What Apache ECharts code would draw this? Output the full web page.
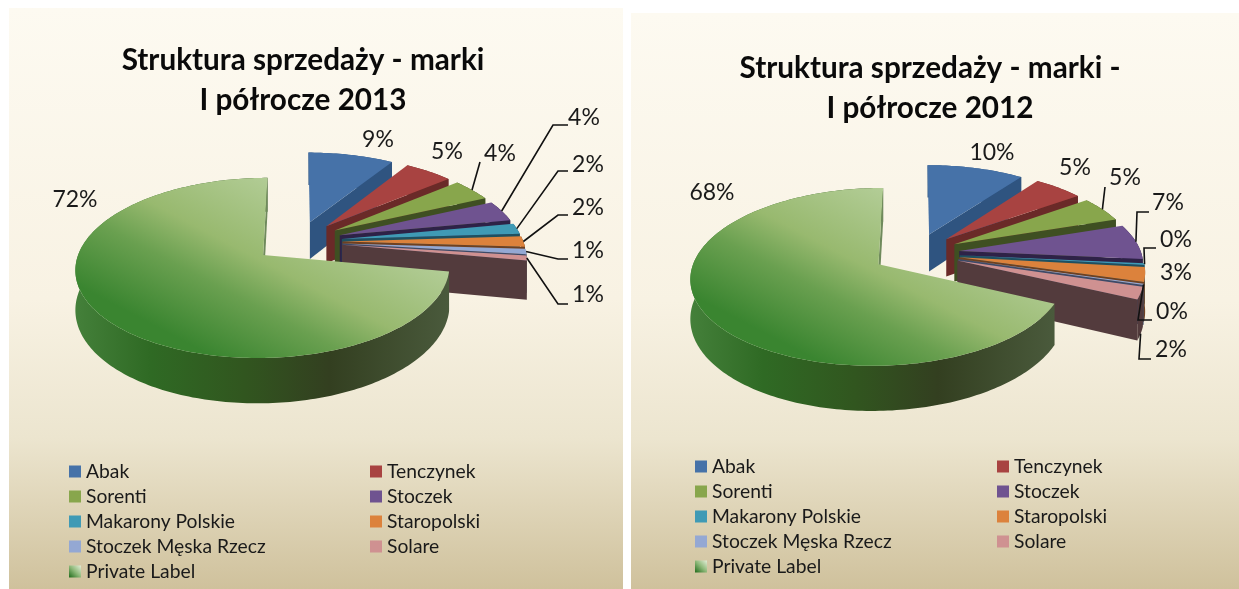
<!DOCTYPE html>
<html>
<head>
<meta charset="utf-8">
<style>html,body{margin:0;padding:0;background:#fff}#main{width:1239px;height:589px}</style>
<script src="https://cdn.jsdelivr.net/npm/echarts@6/dist/echarts.min.js"></script>
</head>
<body>
<div id="main"></div>
<script>
// ---- data ----
const brands = ['Abak','Tenczynek','Sorenti','Stoczek','Makarony Polskie','Staropolski','Stoczek Męska Rzecz','Solare','Private Label'];
const share2013 = [8.9,5.0,4.2,3.9,2.0,2.0,1.0,0.9,72.1];
const share2012 = [10.0,5.1,4.8,6.6,0.3,2.7,0.2,2.3,68.0];
const title2013 = 'Struktura sprzedaży - marki\nI półrocze 2013';
const title2012 = 'Struktura sprzedaży - marki -\nI półrocze 2012';

// ---- styles ----
const topColors  = ['#4672a8','#a84341','#88a64c','#6f5390','#3f9ab5','#dc823c','#94a8d3','#cf9191'];
const faceColors = ['#2f5480','#6a2a28','#3f4f22','#2e2247','#1e5060','#6e4020','#3d4a68','#533b3d'];
const FONT = 'Lato, Carlito, "Open Sans", sans-serif';
const plTop = {type:'linear',x:0.336,y:0.956,x2:0.603,y2:-0.1,colorStops:[
  {offset:0,color:'#3a8530'},{offset:0.3,color:'#6aa050'},{offset:0.5,color:'#98b96f'},{offset:0.87,color:'#b3cd97'},{offset:1,color:'#bcd3a8'}]};
const plWall = {type:'linear',x:0,y:0,x2:1,y2:0,colorStops:[
  {offset:0,color:'#44803a'},{offset:0.2,color:'#2f6a24'},{offset:0.45,color:'#31561f'},{offset:0.68,color:'#333f20'},{offset:1,color:'#4a5a3c'}]};
const plLegend = {type:'linear',x:0,y:1,x2:1,y2:0,colorStops:[{offset:0,color:'#1f6a1a'},{offset:0.5,color:'#8db878'},{offset:1,color:'#e4eed8'}]};

// ---- layout of each pie (perspective disc) ----
const pie2013 = {cx:298,cy:241.5,rx:181,ry:84.4,k:0.14,h:38,explode:0.245};
const pie2012 = {cx:916,cy:253.2,rx:182,ry:84,k:0.14,h:38,explode:0.24};

// label centres and leader routes (elbow, end); "drop" starts the leader at the foot of the wall
const labels2013 = [[378,140],[447,152],[500,154],[584,118],[588,165],[588,208],[588,251],[588,295],[75,200]];
const leaders2013 = [null,null,{pts:[[480,162]]},{pts:[[553,125],[568,125]]},{pts:[[558,171],[568,171]]},{pts:[[558,215],[568,215]]},{pts:[[558,259],[568,259]]},{pts:[[558,304],[568,304]]},null];
const labels2012 = [[992,153],[1075,168],[1125,178],[1168,203],[1176,240],[1176,273],[1172,312],[1171,350],[712,193]];
const leaders2012 = [null,null,{pts:[[1105,187]]},{pts:[[1137,212],[1149,212]]},{pts:[[1144,248],[1156,248]]},null,{pts:[[1138,320],[1152,320]]},{pts:[[1139,359],[1151,359]],drop:1},null];

// ---- geometry helpers ----
function proj(p,u,v,d){const s=1/(1-p.k*v);return [p.cx+p.rx*u*s,p.cy+p.ry*v*s+p.h*d*s];}
function angles(vals){const t=vals.reduce((a,b)=>a+b,0);let c=0;return vals.map(v=>{const a0=c/t*Math.PI*2;c+=v;return [a0,c/t*Math.PI*2];});}
function offs(p,a){const m=(a[0]+a[1])/2;return [p.explode*Math.sin(m),-p.explode*Math.cos(m)];}
function rim(p,a,o,th,d){return proj(p,o[0]+Math.sin(th),o[1]-Math.cos(th),d);}
function sliceItem(p,vals,i,api){
  const a=angles(vals.map((v,j)=>j===i?api.value(0):v))[i],o=offs(p,a);
  const n=Math.max(2,Math.ceil((a[1]-a[0])/0.02));
  const arcTop=[],arcBot=[];
  for(let j=0;j<=n;j++){const th=a[0]+(a[1]-a[0])*j/n;arcTop.push(rim(p,a,o,th,0));arcBot.push(rim(p,a,o,th,1));}
  const ap0=proj(p,o[0],o[1],0),ap1=proj(p,o[0],o[1],1);
  const isPL=i===8;
  return {type:'group',silent:true,children:[
    {type:'polygon',shape:{points:arcTop.concat(arcBot.slice().reverse())},style:{fill:isPL?plWall:faceColors[i]}},
    {type:'polygon',shape:{points:[ap0,arcTop[n],arcBot[n],ap1]},style:{fill:isPL?'#6f8a5c':faceColors[i]}},
    {type:'polygon',shape:{points:[ap0].concat(arcTop)},style:{fill:isPL?plTop:topColors[i]}}
  ]};
}
function labelItem(p,vals,pos,lead,i,api){
  const a=angles(vals)[i],o=offs(p,a),kids=[];
  const l=lead[i];
  if(l){const st=rim(p,a,o,(a[0]+a[1])/2,l.drop?1:0);
    kids.push({type:'polyline',shape:{points:[st].concat(l.pts)},style:{stroke:'#111',lineWidth:1.6,fill:null}});}
  kids.push({type:'text',style:{text:Math.round(api.value(0))+'%',x:pos[i][0],y:pos[i][1],font:'23px '+FONT,fill:'#1a1a1a',textAlign:'center',textVerticalAlign:'middle'}});
  return {type:'group',silent:true,children:kids};
}
function pieSeries(p,vals,pos,lead){
  const s=brands.map((b,i)=>({type:'custom',name:b,coordinateSystem:'none',z:3+i,animation:false,clip:false,
    itemStyle:{color:i===8?'#6f9e4e':topColors[i]},data:[[vals[i]]],
    renderItem:(params,api)=>sliceItem(p,vals,i,api)}));
  s.push({type:'custom',name:'labels',coordinateSystem:'none',z:30,animation:false,data:vals.map(v=>[v]),
    renderItem:(params,api)=>labelItem(p,vals,pos,lead,params.dataIndex,api)});
  return s;
}
function legendCol(left,top,idx){
  return {left:left,top:top,orient:'vertical',selectedMode:false,itemWidth:12,itemHeight:12,itemGap:6,
    padding:0,textStyle:{fontFamily:FONT,fontSize:19.3,color:'#1a1a1a',lineHeight:12,padding:[0,0,0,0]},
    data:idx.map(i=>({name:brands[i],icon:'rect',itemStyle:{color:i===8?plLegend:topColors[i]}}))};
}
const panelFill={type:'linear',x:0,y:0,x2:0,y2:1,colorStops:[
  {offset:0,color:'#fdfaf1'},{offset:0.5,color:'#f8f2e3'},{offset:0.74,color:'#ece5cf'},{offset:1,color:'#cfc19c'}]};

const chart=echarts.init(document.getElementById('main'),null,{renderer:'canvas'});
chart.setOption({
  backgroundColor:'#ffffff',animation:false,
  graphic:[
    {type:'rect',z:0,silent:true,shape:{x:9,y:8,width:614,height:581},style:{fill:panelFill}},
    {type:'rect',z:0,silent:true,shape:{x:631,y:13,width:608,height:576},style:{fill:panelFill}}
  ],
  title:[
    {text:title2013,left:298,top:35,textAlign:'center',textStyle:{fontFamily:FONT,fontWeight:'bold',fontSize:29.7,lineHeight:40,color:'#0a0a0a'}},
    {text:title2012,left:925,top:43,textAlign:'center',textStyle:{fontFamily:FONT,fontWeight:'bold',fontSize:29.7,lineHeight:40,color:'#0a0a0a'}}
  ],
  legend:[
    legendCol(69,462,[0,2,4,6,8]),legendCol(370,462,[1,3,5,7]),
    legendCol(695,457,[0,2,4,6,8]),legendCol(997,457,[1,3,5,7])
  ],
  series:pieSeries(pie2013,share2013,labels2013,leaders2013).concat(pieSeries(pie2012,share2012,labels2012,leaders2012))
});
</script>
</body>
</html>
